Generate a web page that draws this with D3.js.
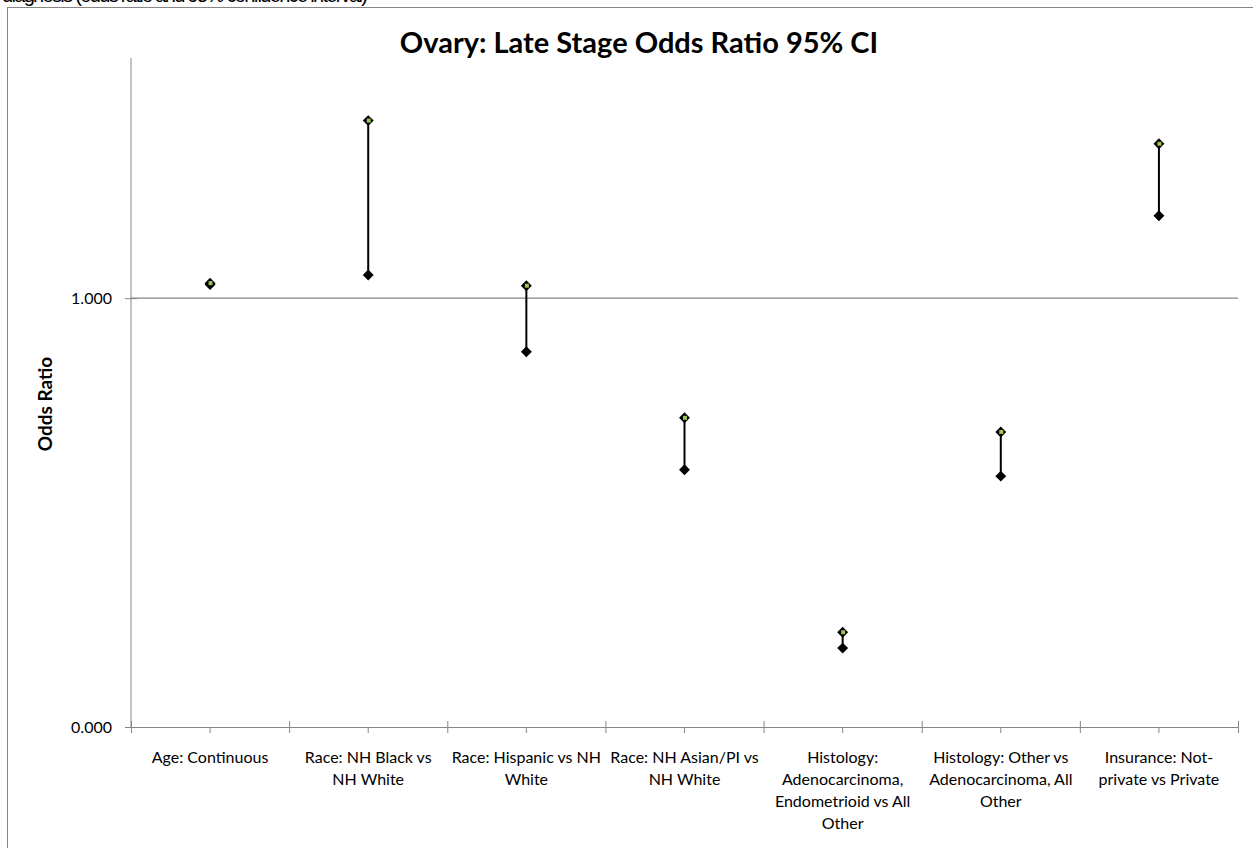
<!DOCTYPE html>
<html>
<head>
<meta charset="utf-8">
<script src="https://cdn.jsdelivr.net/npm/d3@7"></script>
<style>
  body { margin: 0; background: #fff; }
  svg { display: block; font-family: Lato, "Open Sans", sans-serif; }
  .axis path, .axis line { stroke: #868686; }
</style>
</head>
<body>
<div class="container"></div>
<script>
// category labels, already wrapped the way the chart shows them
var categories = [
  ['Age: Continuous'],
  ['Race: NH Black vs', 'NH White'],
  ['Race: Hispanic vs NH', 'White'],
  ['Race: NH Asian/PI vs', 'NH White'],
  ['Histology:', 'Adenocarcinoma,', 'Endometrioid vs All', 'Other'],
  ['Histology: Other vs', 'Adenocarcinoma, All', 'Other'],
  ['Insurance: Not-', 'private vs Private']
];
var upperCI = [1.035, 1.414, 1.029, 0.721, 0.221, 0.688, 1.360];
var lowerCI = [1.032, 1.054, 0.875, 0.600, 0.184, 0.585, 1.192];
var yTicks = [0, 1];

const WIDTH = 1253;
const HEIGHT = 848;
const LEFT = 131, RIGHT = 1238, TOP = 58, BOTTOM = 727;

let translate = (x, y) => (`translate(${x}, ${y})`);

let svg = d3.select('.container').append('svg')
    .attr('width', WIDTH)
    .attr('height', HEIGHT);

// chart frame, runs off the bottom and right of the shot
svg.append('rect')
    .attr('x', 7.5).attr('y', 7.5)
    .attr('width', 1260).attr('height', 900)
    .attr('fill', 'none')
    .attr('stroke', '#868686');

// caption cut off above the frame
svg.append('text')
    .attr('x', 2).attr('y', 2)
    .attr('font-family', 'Liberation Sans, Arial, sans-serif')
    .attr('font-size', 20)
    .attr('textLength', 366)
    .text('diagnosis (odds ratio and 95% confidence interval)');

let yScale = d3.scaleLinear()
    .domain([0, 1.56])
    .range([BOTTOM, TOP]);

let xIndex = d3.scaleLinear()
    .domain([0, categories.length])
    .range([LEFT, RIGHT]);

let xBand = d3.scaleBand()
    .domain(d3.range(categories.length))
    .range([LEFT, RIGHT]);

// gridline at 1.000
svg.append('g').selectAll('line')
    .data(yTicks.filter(d => d > 0))
    .enter().append('line')
    .attr('x1', LEFT).attr('x2', RIGHT)
    .attr('y1', d => yScale(d)).attr('y2', d => yScale(d))
    .attr('stroke', '#868686')
    .attr('stroke-width', 1.3);

// y axis
let yAxis = d3.axisLeft(yScale)
    .tickValues(yTicks)
    .tickFormat(d3.format('.3f'))
    .tickSizeOuter(0)
    .tickSize(6)
    .tickPadding(13);

let gy = svg.append('g')
    .attr('class', 'axis')
    .attr('transform', translate(LEFT, 0))
    .call(yAxis);
gy.select('.domain').attr('d', `M0,${TOP}V${BOTTOM}`);
gy.selectAll('.tick line').attr('x1', 6);
gy.selectAll('.tick text')
    .attr('font-size', 16)
    .attr('font-family', 'Lato, sans-serif')
    .attr('fill', '#000');

// x axis: major ticks at category edges, minor ticks at centres
let xAxis = d3.axisBottom(xIndex)
    .tickValues(d3.range(categories.length + 1))
    .tickFormat('')
    .tickSizeOuter(0)
    .tickSize(6);

let gx = svg.append('g')
    .attr('class', 'axis')
    .attr('transform', translate(0, BOTTOM))
    .call(xAxis);
gx.selectAll('.tick line').attr('y1', -6);

gx.append('g').selectAll('line')
    .data(d3.range(categories.length))
    .enter().append('line')
    .attr('x1', d => xIndex(d + 0.5)).attr('x2', d => xIndex(d + 0.5))
    .attr('y1', 0).attr('y2', 6)
    .attr('stroke', '#868686');

// category labels
let labels = svg.append('g')
    .selectAll('text')
    .data(categories)
    .enter().append('text')
    .attr('text-anchor', 'middle')
    .attr('font-size', 16)
    .attr('fill', '#000')
    .attr('transform', (d, i) => translate(xBand(i) + xBand.bandwidth() / 2, 763));

labels.selectAll('tspan')
    .data(d => d)
    .enter().append('tspan')
    .attr('x', 0)
    .attr('dy', (d, i) => i === 0 ? 0 : 22)
    .text(d => d);

// high-low lines
let g = svg.append('g');
g.selectAll('line.hl')
    .data(d3.range(categories.length))
    .enter().append('line')
    .attr('class', 'hl')
    .attr('x1', i => xBand(i) + xBand.bandwidth() / 2)
    .attr('x2', i => xBand(i) + xBand.bandwidth() / 2)
    .attr('y1', i => yScale(lowerCI[i]))
    .attr('y2', i => yScale(upperCI[i]))
    .attr('stroke', '#000')
    .attr('stroke-width', 2);

let diamond = d3.symbol().type(d3.symbolDiamond2).size(76);

let ends = [];
d3.range(categories.length).forEach(i => {
    ends.push({i: i, v: lowerCI[i]});
    ends.push({i: i, v: upperCI[i]});
});

g.selectAll('path.mk')
    .data(ends)
    .enter().append('path')
    .attr('class', 'mk')
    .attr('d', diamond)
    .attr('transform', d => translate(xBand(d.i) + xBand.bandwidth() / 2, yScale(d.v)))
    .attr('fill', '#000');

// small green centre on the upper marker
g.selectAll('rect.up')
    .data(d3.range(categories.length))
    .enter().append('rect')
    .attr('class', 'up')
    .attr('x', i => xBand(i) + xBand.bandwidth() / 2 - 1.5)
    .attr('y', i => yScale(upperCI[i]) - 2)
    .attr('width', 4).attr('height', 4)
    .attr('fill', '#9bc653');

// titles
svg.append('text')
    .attr('x', 639)
    .attr('y', 53)
    .attr('text-anchor', 'middle')
    .attr('font-size', 29)
    .attr('font-weight', 'bold')
    .text('Ovary: Late Stage Odds Ratio 95% CI');

svg.append('text')
    .attr('transform', translate(52, 404) + ' rotate(-90)')
    .attr('text-anchor', 'middle')
    .attr('font-size', 19)
    .attr('font-weight', 'bold')
    .text('Odds Ratio');
</script>
</body>
</html>
